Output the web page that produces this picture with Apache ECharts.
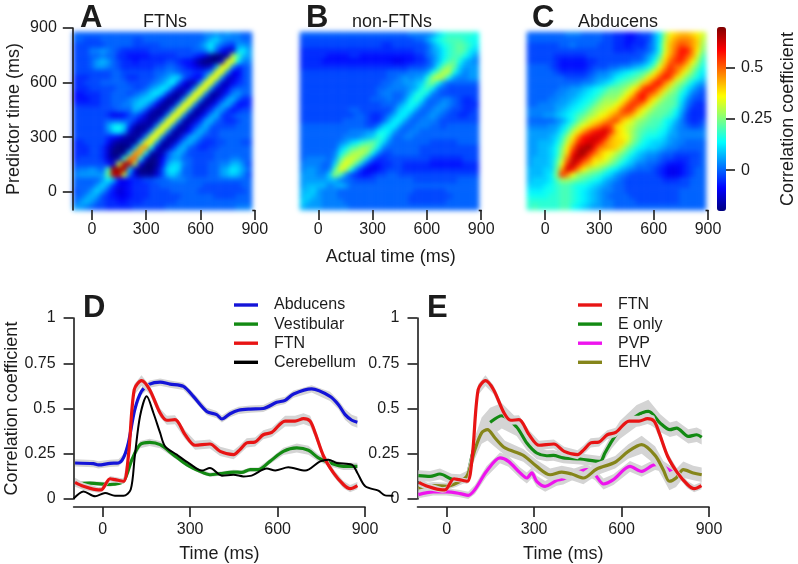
<!DOCTYPE html>
<html>
<head>
<meta charset="utf-8">
<style>
html,body{margin:0;padding:0;background:#fff}
#main{width:798px;height:564px}
/* heat cells sit on their own layer, softened so they read as a smooth image */
canvas[data-zr-dom-id="zr_-1"]{filter:blur(2.4px)}
</style>
<script src="https://cdn.jsdelivr.net/npm/echarts@6/dist/echarts.min.js"></script>
</head>
<body>
<div id="main"></div>
<script>
// heat maps: one character per cell, base 36, 0 = -0.2 ... z = 0.675, steps of 0.025
// rows run from the top of the panel (880 ms) to the bottom (-100 ms)
var ftnsMap = [
"88888888888 88888888888 8899a9a9988",
"88777888888 77888888888 889bca99988",
"77777788888 77777888888 89bda876aa9",
"77799a98766 66677777777 889c8533cda",
"77788988665 55566666777 6531002kgba",
"7778aba8766 56666677655 310003lmd99",
"7778aa98766 66667788765 4323amma678",
"77777778877 77778899877 667amma4478",
"66677778876 67778 9acc86 54amma33578",
"66777888887 77789acd842 2amma324678",
"66677777888 778abdc7323 amma3247888",
"55666778887 89acdb6212a mma21369a88",
"55566778889 abcc95112am ma2136ab866",
"66666778899 bcb84112amm a2136ab8556",
"77777777888 ba73112amma 2136aa75677",
"77777764457 863112amma2 136ab767888",
"77777788888 63212amma21 36ab8766788",
"777777adec6 2112amma213 69b87777888",
"7777779cda3 112amma2125 9b977888888",
"77777765421 12amma2126a b9777888888",
"66777752111 1bnnb2126ab 97667788877",
"66677631001 bpqd3126ab8 76677888888",
"6667763001c qqd2127ab97 77778888888",
"677776312fr se30148aa88 77778889988",
"77777753kyy j40015acc98 7778899bb97",
"899a98gzzyc 300027cdc88 77788abdca8",
"9aaaaahyyk8 311137bca88 77788abcb97",
"88888adb545 66778889998 88888888888",
"8888aca6445 66677888888 88777777788",
"788aca75345 66677778888 87777777778",
"88aba765445 66677777788 88887777888",
"8aba8766556 66777777888 88888888888",
"aa987766666 77777788888 88888888999"
];
var nonFtnsMap = [
"88888888888 88888888899 99acefffffe",
"77777777777 77777777778 8acefgggfee",
"77777777777 77776677777 78acefghgfd",
"66666666666 66666666667 78abdfghgdc",
"66666555566 55555555556 689bdfggeca",
"66665555555 55555544556 679begheba9",
"66666666666 66666666677 789dhjhcaaa",
"77777777777 77777888899 9aehkkeb9aa",
"77777777777 77777889a9a aejljea99aa",
"77777777777 77778899aab cgiea888888",
"77777777777 777889999ab egd98777777",
"77777777777 777899889be fd987777777",
"77777777777 77888988adf d9889987667",
"77777777777 7777888aced a889a987666",
"77777777788 7777779cdda 889a9877667",
"77777777778 876679bdda8 89a98776677",
"77777777888 87668bdda88 99987777777",
"88888888888 8779cdda889 99887888888",
"88888888899 9aadeda8899 88888888888",
"88888888999 abcfeb88998 88888888888",
"88888889acd fghfc988888 88777778888",
"8888888bdgh jjhd9888888 77777777777",
"8888889dgjk kid97788888 77777777777",
"899998agklk hc866777777 77666666777",
"999988cjmkg b7556677666 66555555666",
"9aa989gmke9 64456777666 66666666666",
"aaa99cjga76 55677887777 77777777777",
"aaaaabb9887 77788888887 77777778888",
"abbbb9aba88 88888888888 88888888888",
"bbca9998888 88888888887 77777888888",
"bcba9998888 88888888877 77777788888",
"cbaa9999888 88888888877 77777888888",
"baaa9999988 88888888888 88888888888"
];
var abducensMap = [
"88888889998 88877665567 7adjnopponl",
"88888888888 88877665566 7adkoqrrqok",
"77777788988 88777665666 8aelprtsqoj",
"77777777777 77777666677 8aelpsvvrni",
"77777666666 77777777778 acgnqtvtqlg",
"77777655555 66777777889 bejosuurnjf",
"88887655555 67778899abc ehmqusrokhe",
"88888766666 7899abcdefg imptusolifd",
"88888887777 89aabdefghj nptvtoligec",
"88888888889 9abcdfghiko quvrokigdba",
"88888899aab cdefhhijmot vurokigdb98",
"8888899aabc defhiijmotv trokihec987",
"888899aabcd efhjjjmosuv qnkihgda877",
"88999aabcde fhjkkmosutq nkihhgc9766",
"99999abcdef hjklnosutpm kihhgeb8666",
"999aabcdegh jkmnprsrpmk ihhgfda7666",
"888889acehj lnoqstpnlji hggedb97667",
"9999aacehkm oqsutonlkih ggfeca98778",
"aaaaabdgknq tvwxupnljhg ffedba99999",
"aaaabcfjnrv wxxvqonmjhf eedcaa99999",
"aabbbdglpuw xxvrpoolige dccba998888",
"aabbceinsxy zvrqpoliged ccba9988888",
"aabbcejovyz vspnmkigecb aa988777778",
"abbbcfkrxyv soomkigecba 99877666778",
"abbbcgmuyvr pnlkigecb99 88765556778",
"bbbcchqxvqn kjigedba988 87654456788",
"bbbcdiurmji hgfdca98777 77654456788",
"bcccdgjjihg fedba987777 77766677888",
"cccdefggfee dcba9887777 77777777888",
"dddeefggfed cba99887777 77777788888",
"eeeeffggfed cba98888777 77777788888",
"ffffffggfed cba99888877 77777788888",
"fgffffggedc baa99888888 88888888888"
];

// line traces: [time ms, correlation, half width of the grey band]
var abducens = [[-95,.199,.02],[-32,.195,.02],[-15,.188,.02],[25,.197,.02],[54,.199,.02],[71,.227,.02],[88,.31,.02],[110,.494,.02],[133,.595,.02],[161,.635,.02],[197,.646,.02],[231,.635,.02],[277,.622,.02],[311,.567,.02],[357,.484,.02],[391,.466,.02],[409,.442,.02],[437,.471,.02],[466,.49,.02],[506,.497,.02],[551,.50,.02],[597,.534,.02],[626,.545,.02],[655,.58,.02],[717,.608,.02],[780,.567,.025],[809,.521,.025],[832,.466,.03],[855,.435,.03],[874,.424,.03]];
var vestibular = [[-95,.085,.012],[-44,.088,.012],[25,.08,.012],[71,.098,.012],[100,.217,.015],[128,.30,.02],[161,.313,.02],[197,.30,.02],[242,.245,.015],[288,.19,.012],[334,.153,.012],[368,.134,.012],[403,.14,.012],[449,.149,.012],[477,.147,.012],[506,.162,.012],[534,.162,.012],[574,.208,.015],[620,.263,.02],[666,.282,.025],[706,.269,.025],[740,.227,.02],[780,.199,.02],[826,.18,.02],[874,.18,.02]];
var ftn = [[-95,.092,.025],[-66,.07,.02],[-15,.05,.015],[-3,.052,.015],[25,.112,.015],[42,.107,.015],[71,.098,.015],[88,.236,.02],[108,.604,.03],[133,.654,.03],[161,.604,.025],[197,.475,.025],[220,.435,.025],[248,.438,.025],[283,.355,.025],[317,.297,.025],[368,.304,.025],[403,.263,.025],[449,.245,.025],[471,.273,.025],[494,.31,.025],[523,.315,.025],[551,.355,.025],[580,.368,.025],[626,.43,.03],[660,.43,.03],[689,.444,.03],[712,.43,.03],[729,.365,.025],[758,.236,.02],[792,.144,.02],[826,.08,.02],[849,.057,.02],[874,.074,.02]];
var cerebellum = [[-100,.002],[-66,.042],[-26,.015],[8,.033],[42,.018],[71,.018],[96,.052],[110,.236],[128,.457],[151,.567],[174,.475],[197,.365],[214,.291],[254,.245],[294,.2],[340,.157],[368,.171],[409,.129],[449,.134],[483,.125],[511,.129],[563,.168],[592,.158],[637,.175],[695,.157],[746,.208],[775,.217],[803,.199],[855,.19],[874,.144],[901,.07],[946,.046],[969,.02],[998,.018]];
var eOnly = [[-97,.129,.03],[-57,.125,.03],[-23,.138,.03],[17,.11,.03],[46,.107,.03],[69,.125,.03],[92,.27,.05],[120,.38,.07],[149,.424,.08],[189,.46,.07],[240,.398,.05],[275,.309,.04],[309,.254,.035],[343,.239,.03],[366,.241,.03],[400,.227,.03],[458,.221,.03],[526,.208,.03],[543,.254,.035],[566,.319,.04],[595,.383,.05],[652,.46,.06],[692,.484,.065],[732,.42,.05],[766,.383,.04],[789,.392,.04],[829,.346,.04],[858,.355,.04],[875,.341,.04]];
var pvp = [[-97,.024,.02],[-46,.039,.02],[0,.039,.02],[46,.03,.02],[74,.02,.02],[97,.052,.025],[137,.153,.03],[183,.227,.03],[212,.208,.03],[252,.144,.03],[275,.116,.03],[292,.144,.03],[309,.098,.03],[338,.07,.03],[378,.103,.03],[400,.11,.03],[440,.14,.03],[480,.162,.03],[509,.134,.03],[538,.083,.03],[572,.107,.03],[629,.18,.03],[669,.153,.03],[715,.19,.03],[743,.18,.03],[778,.144,.03]];
var ehv = [[-97,.061,.02],[-46,.074,.02],[0,.07,.02],[34,.088,.02],[69,.125,.03],[97,.273,.05],[120,.365,.06],[140,.383,.06],[166,.337,.05],[200,.282,.04],[263,.241,.035],[309,.18,.035],[355,.134,.035],[395,.149,.035],[429,.138,.035],[469,.116,.035],[515,.166,.035],[578,.203,.035],[623,.263,.04],[669,.3,.05],[715,.241,.05],[743,.162,.05],[764,.098,.05],[787,.116,.05],[812,.162,.045],[846,.144,.04],[875,.134,.04]];

var heatCells = [-85,-55,-25,4,34,64,94,123,153,183,212,242,272,302,331,361,391,421,450,480,510,540,569,599,629,659,688,718,748,778,807,837,867];
var timeTicks = [0,300,600,900];
var corrTicks = [0,0.25,0.5,0.75,1];
var barTicks = [0,0.25,0.5];
var jet = ['#00007f','#0000ff','#007fff','#00ffff','#7fff7f','#ffff00','#ff7f00','#ff0000','#7f0000'];

var ink = '#1c1c1c';
var font = 'Liberation Sans';
var myChart = echarts.init(document.getElementById('main'));

function cells(rows) {
    var out = [];
    rows.forEach(function (row, r) {
        row.replace(/ /g, '').split('').forEach(function (c, i) {
            out.push([i, rows.length - 1 - r, -0.2 + 0.025 * parseInt(c, 36)]);
        });
    });
    return out;
}

function axisCommon(ticks, margin, extra) {
    var a = {
        type: 'value',
        axisLine: {show: true, onZero: false, lineStyle: {color: ink, width: 1.6}},
        axisTick: {show: true, length: 10, customValues: ticks, lineStyle: {color: ink, width: 1.6}},
        axisLabel: {show: true, customValues: ticks, color: ink, fontSize: 16, fontFamily: font, margin: margin,
            formatter: function (v) { return String(v); }},
        nameTextStyle: {color: ink, fontSize: 18, fontFamily: font},
        nameLocation: 'middle',
        splitLine: {show: false}
    };
    for (var k in extra) a[k] = extra[k];
    return a;
}

var grid = [], xAxis = [], yAxis = [], series = [], stubs = [];

// heat panels, then their tick axes on top
[[ftnsMap, 73], [nonFtnsMap, 300], [abducensMap, 527]].forEach(function (p, n) {
    grid.push({left: p[1], top: 32, width: 179, height: 178});
    xAxis.push({type: 'category', gridIndex: n, data: heatCells, show: false});
    yAxis.push({type: 'category', gridIndex: n, data: heatCells, show: false});
    series.push({
        type: 'heatmap', xAxisIndex: n, yAxisIndex: n, data: cells(p[0]),
        zlevel: -1, silent: true, progressive: 0, itemStyle: {borderWidth: 0}
    });
});
[73.8, 300.2, 527].forEach(function (left, n) {
    var idx = grid.length;
    grid.push({left: left, top: 28, width: 181, height: 182});
    // the image hides the axis line, only its end past the image shows
    var x = axisCommon(timeTicks, 12, {gridIndex: idx, min: -100, max: 900});
    x.axisLine = {show: false, onZero: false};
    if (n == 1) { x.name = 'Actual time (ms)'; x.nameGap = 38; }
    xAxis.push(x);
    stubs.push({type: 'line', shape: {x1: left + 178.5, y1: 210.5, x2: left + 181.5, y2: 210.5}, style: {stroke: ink, lineWidth: 1.6}});
    var y = axisCommon(timeTicks, 16, {gridIndex: idx, min: -100, max: 900, show: n == 0, offset: 1});
    if (n == 0) { y.name = 'Predictor time (ms)'; y.nameGap = 50; }
    yAxis.push(y);
});

// colour bar ticks
grid.push({left: 725, top: 27, width: 1, height: 184});
xAxis.push({type: 'value', gridIndex: 6, show: false});
var barAxis = axisCommon(barTicks, 15, {gridIndex: 6, min: -0.2, max: 0.7, position: 'right', name: 'Correlation coefficient', nameRotate: 90, nameGap: 53});
barAxis.axisLine = {show: false};
yAxis.push(barAxis);

// lower panels: 7, 8 carry the visible axes
grid.push({left: 73.6, top: 318, width: 291.4, height: 181});
grid.push({left: 417.5, top: 318, width: 291.5, height: 181});
[7, 8].forEach(function (n) {
    xAxis.push(axisCommon(timeTicks, 15, {gridIndex: n, min: -100, max: 900, name: 'Time (ms)', nameGap: 38, offset: 8}));
    var y = axisCommon(corrTicks, 18, {gridIndex: n, min: 0, max: 1});
    if (n == 7) { y.name = 'Correlation coefficient'; y.nameGap = 52; }
    yAxis.push(y);
});
// 9, 10 hold the traces, 9 runs on to 1000 ms because the cerebellum trace does
grid.push({left: 73.6, top: 318, width: 320.5, height: 181});
grid.push({left: 417.5, top: 318, width: 291.5, height: 181});
[[9, 1000], [10, 900]].forEach(function (p) {
    xAxis.push({type: 'value', gridIndex: p[0], min: -100, max: p[1], show: false});
    yAxis.push({type: 'value', gridIndex: p[0], min: 0, max: 1, show: false});
});

var order = 3;
function trace(panel, data, name, color) {
    if (data[0].length > 2) {
        series.push({
            type: 'custom', xAxisIndex: panel, yAxisIndex: panel, silent: true, z: order++,
            encode: {x: 0, y: 1},
            data: data.map(function (d) { return [d[0], d[1] - d[2], d[1] + d[2]]; }),
            renderItem: function (params, api) {
                if (params.dataIndex !== 0) return;
                var lo = [], hi = [];
                data.forEach(function (d) {
                    lo.push(api.coord([d[0], d[1] - d[2]]));
                    hi.unshift(api.coord([d[0], d[1] + d[2]]));
                });
                return {type: 'polygon', shape: {points: lo.concat(hi)}, style: {fill: '#d4d4d4'}};
            }
        });
    }
    series.push({
        type: 'line', name: name, xAxisIndex: panel, yAxisIndex: panel, silent: true, z: order++,
        showSymbol: false, smooth: 0.3, color: color,
        lineStyle: {color: color, width: data[0].length > 2 ? 3.2 : 2},
        data: data.map(function (d) { return [d[0], d[1]]; })
    });
}

trace(9, abducens, 'Abducens', '#1414d8');
trace(9, vestibular, 'Vestibular', '#138a13');
trace(9, ftn, 'FTN', '#e81414');
trace(9, cerebellum, 'Cerebellum', '#000000');
trace(10, eOnly, 'E only', '#138a13');
trace(10, pvp, 'PVP', '#ee14ee');
trace(10, ehv, 'EHV', '#85851a');
trace(10, ftn, 'FTN', '#e81414');

function legendAt(left, names) {
    return {
        left: left, top: 297, orient: 'vertical', data: names, icon: 'rect', itemWidth: 24, itemHeight: 3.4,
        itemGap: 3.1, selectedMode: false, padding: 0,
        textStyle: {color: ink, fontSize: 16, fontFamily: font, lineHeight: 14, padding: [0, 0, 0, 11]}
    };
}

function label(text, left, top, size, weight) {
    return {text: text, left: left, top: top, padding: 0, textStyle: {color: ink, fontSize: size, fontWeight: weight, fontFamily: font}};
}

var option = {
    animation: false,
    title: [
        label('A', 80, 3, 31, 'bold'), label('B', 306, 3, 31, 'bold'), label('C', 532, 3, 31, 'bold'),
        label('D', 83, 293, 31, 'bold'), label('E', 427, 293, 31, 'bold'),
        label('FTNs', 143, 13, 18, 'normal'), label('non-FTNs', 352, 13, 18, 'normal'), label('Abducens', 578, 13, 18, 'normal')
    ],
    grid: grid,
    xAxis: xAxis,
    yAxis: yAxis,
    visualMap: {
        type: 'continuous', min: -0.2, max: 0.7, seriesIndex: [0, 1, 2], inRange: {color: jet},
        left: 717, top: 27, itemWidth: 9, itemHeight: 184, calculable: false, realtime: false,
        text: null, padding: 0, hoverLink: false, showLabel: false, textStyle: {fontSize: 0}
    },
    legend: [
        legendAt(234, ['Abducens', 'Vestibular', 'FTN', 'Cerebellum']),
        legendAt(578, ['FTN', 'E only', 'PVP', 'EHV'])
    ],
    graphic: stubs,
    series: series
};

myChart.setOption(option);
</script>
</body>
</html>
